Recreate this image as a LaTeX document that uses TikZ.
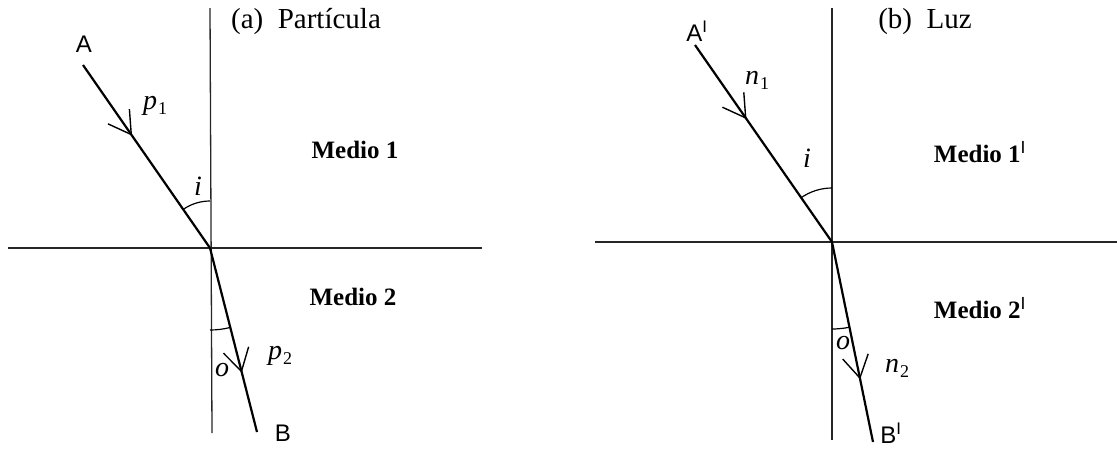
\documentclass[tikz,border=0pt]{standalone}
\usepackage{fontspec}
\setmainfont{Liberation Serif}
\newfontfamily\sansA{Liberation Sans}
\usetikzlibrary{decorations.markings}
\newcommand{\symsub}[2]{\textit{#1}\kern1pt\raisebox{-5pt}{\fontsize{18}{20}\selectfont #2}}
\begin{document}
\begin{tikzpicture}[x=1pt,y=-1pt,
  axis/.style={line width=1.3pt,draw=black!85},
  ray/.style={line width=2.2pt},
  midarrow/.style={postaction={decorate},decoration={markings,
     mark=at position #1 with {\draw[line width=1.4pt] (-22pt,13pt) -- (0,0) -- (-22pt,-13pt);}}},
  anglearc/.style={line width=1.2pt},
  lbl/.style={font=\fontsize{29}{32}\selectfont},
  med/.style={font=\fontsize{25}{28}\selectfont\bfseries},
  sym/.style={font=\fontsize{28}{30}\selectfont},
  pt/.style={font=\fontsize{24}{28}\sansA}]
\useasboundingbox (0,0) rectangle (1117,448);
% ---------- Panel (a)
\coordinate (O1) at (210,248);
\coordinate (V1t) at (210,8);
\coordinate (V1b) at (212,433);
\coordinate (H1l) at (8,248);
\coordinate (H1r) at (482,248);
\coordinate (A1) at (83,65);
\coordinate (B1) at (257,432);
\draw[axis] (V1t) -- (V1b);
\draw[axis] (H1l) -- (H1r);
\draw[ray,midarrow=0.38] (A1) -- (O1);
\draw[ray,midarrow=0.67] (O1) -- (B1);
\draw[anglearc] (O1) ++(235.2:47) arc[start angle=235.2,end angle=270,radius=47];
\draw[anglearc] (O1) ++(75.7:82) arc[start angle=75.7,end angle=90,radius=82];
\node[lbl] (ta) at (306,22) {(a)\ \ Partícula};
\node[pt] (la) at (84,44) {A};
\node[pt] (lb) at (283,433) {B};
\node[sym] (p1) at (155,106) {\symsub{p}{1}};
\node[sym] (p2) at (280,356) {\symsub{p}{2}};
\node[sym] (i1) at (198,186) {\textit{i}};
\node[sym] (o1) at (222,370) {\textit{o}};
\node[med] (m1) at (355,150) {Medio 1};
\node[med] (m2) at (353,297) {Medio 2};
% ---------- Panel (b)
\coordinate (O2) at (832,242);
\coordinate (V2t) at (832,8);
\coordinate (V2b) at (832,440);
\coordinate (H2l) at (595,242);
\coordinate (H2r) at (1117,242);
\coordinate (A2) at (695,45);
\coordinate (B2) at (873,442);
\draw[axis] (V2t) -- (V2b);
\draw[axis] (H2l) -- (H2r);
\draw[ray,midarrow=0.37] (A2) -- (O2);
\draw[ray,midarrow=0.68] (O2) -- (B2);
\draw[anglearc] (O2) ++(235.3:54) arc[start angle=235.3,end angle=270,radius=54];
\draw[anglearc] (O2) ++(78.3:87) arc[start angle=78.3,end angle=90,radius=87];
\node[lbl] (tb) at (925,22) {(b)\ \ Luz};
\node[pt] (la2) at (697,31) {A\textsuperscript{I}};
\node[pt] (lb2) at (891,433) {B\textsuperscript{I}};
\node[sym] (n1) at (757,80) {\symsub{n}{1}};
\node[sym] (n2) at (897,368) {\symsub{n}{2}};
\node[sym] (i2) at (807,158) {\textit{i}};
\node[sym] (o2) at (843,343) {\textit{o}};
\node[med] (m3) at (980,152) {Medio 1\textsuperscript{\sansA\mdseries I}};
\node[med] (m4) at (980,308) {Medio 2\textsuperscript{\sansA\mdseries I}};
\end{tikzpicture}
\end{document}
